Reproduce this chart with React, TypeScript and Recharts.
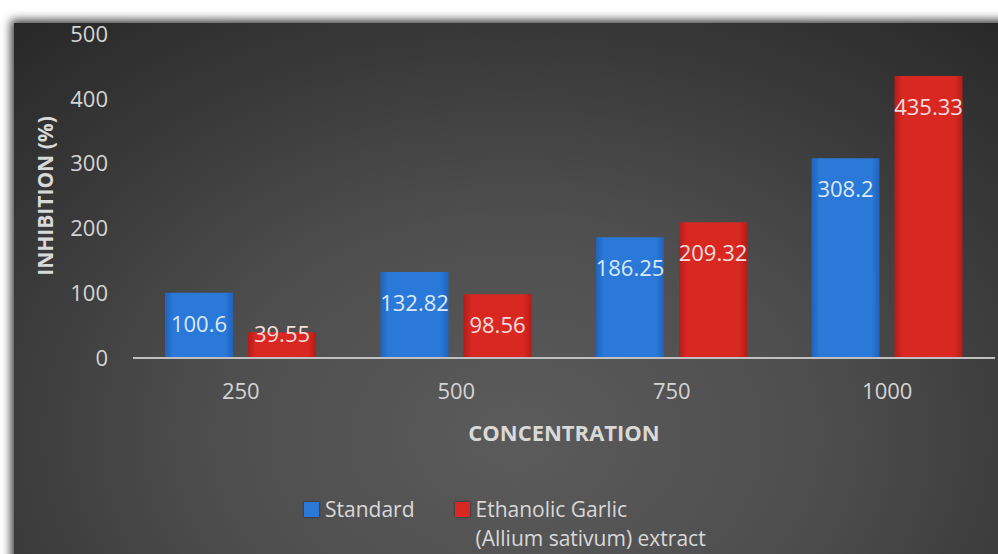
import { BarChart, Bar, XAxis, YAxis, Legend, LabelList, Label } from "recharts";

const concentrations = ["250", "500", "750", "1000"];
const standardValues = [100.6, 132.82, 186.25, 308.2];
const garlicValues = [39.55, 98.56, 209.32, 435.33];
const yTicks = [0, 100, 200, 300, 400, 500];

const seriesKeys = ["standard", "garlic"];
const seriesNames = ["Standard", "Ethanolic Garlic\n(Allium sativum) extract"];
const seriesColors = ["#2a79d8", "#d92822"];

const data = concentrations.map((c, i) => ({
  conc: c,
  standard: standardValues[i],
  garlic: garlicValues[i],
}));

const FONT = "'Open Sans', 'Noto Sans', sans-serif";

// label sits ~30px under the bar top, but never lower than the baseline allows
const barLabel = (color: string) => (props: any) => {
  const { x, y, width, height, value } = props;
  const cy = Math.min(y + 30, y + height - 25);
  return (
    <text
      x={x + width / 2}
      y={cy}
      textAnchor="middle"
      dominantBaseline="central"
      fill={color}
      fontSize={22}
      fontFamily={FONT}
    >
      {value}
    </text>
  );
};

const renderLegend = (props: any) => {
  const items = [...(props.payload || [])].sort(
    (a: any, b: any) => seriesKeys.indexOf(a.dataKey) - seriesKeys.indexOf(b.dataKey)
  );
  return (
    <div
      style={{
        display: "flex",
        height: 64,
        paddingLeft: 304,
        paddingTop: 5,
        boxSizing: "border-box",
        fontFamily: FONT,
        fontSize: 21,
        color: "#d9d9d9",
      }}
    >
      {items.map((it: any, i: number) => (
        <div key={i} style={{ display: "flex", alignItems: "flex-start", marginRight: 40 }}>
          <div
            style={{
              width: 15,
              height: 15,
              marginTop: 7,
              marginRight: 6,
              background: seriesColors[seriesKeys.indexOf(it.dataKey)],
              boxShadow: "0 0 2px rgba(0,0,0,0.6)",
            }}
          />
          <div style={{ whiteSpace: "pre-line", lineHeight: "29px" }}>{it.value}</div>
        </div>
      ))}
    </div>
  );
};

export default function App() {
  return (
    <div
      style={{
        position: "fixed",
        left: 0,
        top: 0,
        width: 998,
        height: 554,
        background: "#ffffff",
        overflow: "hidden",
      }}
    >
      <div
        style={{
          position: "absolute",
          left: 14,
          top: 23,
          right: -20,
          bottom: -20,
          background:
            "radial-gradient(ellipse 75% 100% at 50% 75%, #5b5b5b 0%, #4e4e4e 40%, #3a3a3a 70%, #282828 100%)",
          boxShadow: "0 0 9px 3px #3a3a3a",
        }}
      />
      <div style={{ position: "absolute", left: 0, top: 0 }}>
        <BarChart
          width={998}
          height={554}
          data={data}
          margin={{ top: 34, right: 3, bottom: 0, left: 0 }}
          barCategoryGap={32}
          barGap={15}
        >
          <defs>
            <linearGradient id="blueFill" x1="0" y1="0" x2="1" y2="0">
              <stop offset="0%" stopColor="#1f63bd" />
              <stop offset="12%" stopColor="#2a79d8" />
              <stop offset="88%" stopColor="#2a79d8" />
              <stop offset="100%" stopColor="#1f63bd" />
            </linearGradient>
            <linearGradient id="redFill" x1="0" y1="0" x2="1" y2="0">
              <stop offset="0%" stopColor="#b51c18" />
              <stop offset="12%" stopColor="#d92822" />
              <stop offset="88%" stopColor="#d92822" />
              <stop offset="100%" stopColor="#b51c18" />
            </linearGradient>
          </defs>
          <XAxis
            dataKey="conc"
            height={132}
            axisLine={{ stroke: "#c0c0c0", strokeWidth: 2 }}
            tickLine={false}
            tickMargin={19}
            tick={{ fill: "#d4d4d4", fontSize: 22, fontFamily: FONT }}
          >
            <Label
              value="CONCENTRATION"
              position="insideTop"
              offset={67}
              fill="#d9d9d9"
              fontSize={22}
              fontWeight="bold"
              fontFamily={FONT}
            />
          </XAxis>
          <YAxis
            width={133}
            domain={[0, 500]}
            ticks={yTicks}
            axisLine={false}
            tickLine={false}
            tickMargin={19}
            tick={{ fill: "#d4d4d4", fontSize: 22, fontFamily: FONT }}
          >
            <Label
              value="INHIBITION (%)"
              angle={-90}
              position="center"
              dx={-21}
              fill="#d9d9d9"
              fontSize={21}
              fontWeight="bold"
              fontFamily={FONT}
            />
          </YAxis>
          <Legend verticalAlign="bottom" height={64} content={renderLegend} />
          <Bar dataKey="standard" name={seriesNames[0]} fill="url(#blueFill)" isAnimationActive={false}>
            <LabelList dataKey="standard" content={barLabel("#dce8f8")} />
          </Bar>
          <Bar dataKey="garlic" name={seriesNames[1]} fill="url(#redFill)" isAnimationActive={false}>
            <LabelList dataKey="garlic" content={barLabel("#f6dede")} />
          </Bar>
        </BarChart>
      </div>
    </div>
  );
}
